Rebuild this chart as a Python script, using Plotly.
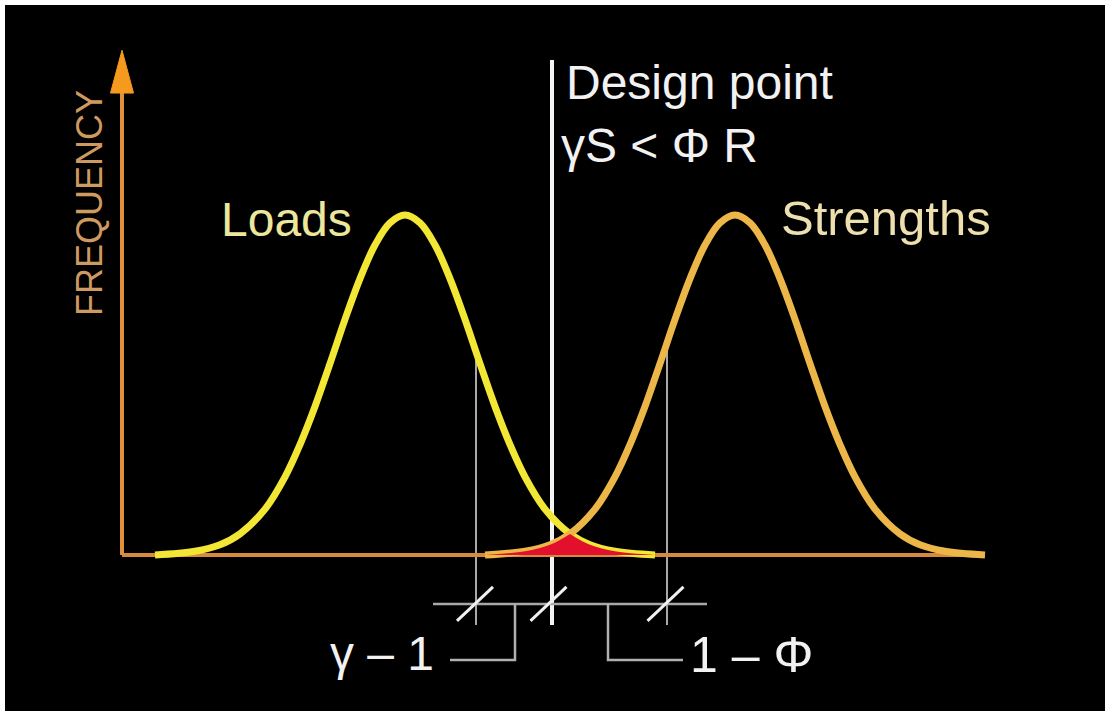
import plotly.graph_objects as go

# shared bell shape of both distributions (offset from mean, height relative to peak)
CURVE_OFFSETS = [-25, -21, -18.5, -16.5, -14, -12, -10.5, -9, -7.5, -6, -4.5, -3, -1.5, 0,
                 1.5, 3, 4.5, 6, 7.5, 9, 10.5, 12, 14, 16.5, 18.5, 21, 25]
CURVE_HEIGHTS = [0.0, 0.011, 0.030, 0.062, 0.135, 0.230, 0.325, 0.437, 0.563, 0.693, 0.813, 0.912, 0.977, 1.0,
                 0.977, 0.912, 0.813, 0.693, 0.563, 0.437, 0.325, 0.230, 0.135, 0.062, 0.030, 0.011, 0.0]

LOADS_MEAN = 40.5
STRENGTHS_MEAN = 73.5
DESIGN_POINT = 55.2
CHAR_MARKS = [47.6, 66.7]      # thin grey lines, one sd each side
MARK_TOP = 0.6
MARK_BOTTOM = -0.206
DESIGN_TOP = 1.456

Y_AXIS_X = 12.2
X_AXIS_END = 98.5
ARROW_TIP = 1.485

SCALE_Y = -0.144
SCALE_SPAN = [43.3, 70.7]
SLASH_X = [47.5, 54.85, 66.55]
BRACKET_Y = -0.309
LEFT_BRACKET = [51.5, 45.0]
RIGHT_BRACKET = [60.8, 68.3]

FONT = "Liberation Sans, Arial, sans-serif"
AXIS_COLOR = "#d68b3c"

loads_x = [LOADS_MEAN + o for o in CURVE_OFFSETS]
strengths_x = [STRENGTHS_MEAN + o for o in CURVE_OFFSETS]
cross = CURVE_OFFSETS.index(-16.5)
right_tail = CURVE_OFFSETS.index(16.5)

fig = go.Figure()


def line(x, y, color, width):
    fig.add_trace(go.Scatter(x=x, y=y, mode="lines", line=dict(color=color, width=width),
                             hoverinfo="skip"))


# verticals behind the curves
line([DESIGN_POINT, DESIGN_POINT], [MARK_BOTTOM, DESIGN_TOP], "#f4f4f4", 4)
for m in CHAR_MARKS:
    line([m, m], [MARK_BOTTOM, MARK_TOP], "#a9a9a9", 2)

# axes
line([Y_AXIS_X, X_AXIS_END], [0, 0], AXIS_COLOR, 4)
line([Y_AXIS_X, Y_AXIS_X], [0, ARROW_TIP - 0.12], "#e0903a", 4)
fig.add_trace(go.Scatter(
    x=[Y_AXIS_X - 1.15, Y_AXIS_X, Y_AXIS_X + 1.15, Y_AXIS_X - 1.15],
    y=[ARROW_TIP - 0.126, ARROW_TIP, ARROW_TIP - 0.126, ARROW_TIP - 0.126],
    mode="lines", fill="toself", fillcolor="#f59a1e", line=dict(color="#f59a1e", width=1),
    hoverinfo="skip"))

# distributions
fig.add_trace(go.Scatter(x=loads_x, y=CURVE_HEIGHTS, mode="lines", line_shape="spline",
                         line=dict(color="#f3e735", width=7), hoverinfo="skip"))
fig.add_trace(go.Scatter(x=strengths_x, y=CURVE_HEIGHTS, mode="lines", line_shape="spline",
                         line=dict(color="#ecb748", width=7), hoverinfo="skip"))

# overlap (failure region)
fig.add_trace(go.Scatter(x=strengths_x[:cross + 1], y=CURVE_HEIGHTS[:cross + 1], mode="lines",
                         line_shape="spline", fill="tozeroy", fillcolor="#e2102c",
                         line=dict(width=0, color="#e2102c"), hoverinfo="skip"))
fig.add_trace(go.Scatter(x=loads_x[right_tail:], y=CURVE_HEIGHTS[right_tail:], mode="lines",
                         line_shape="spline", fill="tozeroy", fillcolor="#e2102c",
                         line=dict(width=0, color="#e2102c"), hoverinfo="skip"))

# scale below the axis
line(SCALE_SPAN, [SCALE_Y, SCALE_Y], "#a8a8a8", 2.5)
line([LEFT_BRACKET[0], LEFT_BRACKET[0], LEFT_BRACKET[1]], [SCALE_Y, BRACKET_Y, BRACKET_Y], "#b0b0b0", 2.5)
line([RIGHT_BRACKET[0], RIGHT_BRACKET[0], RIGHT_BRACKET[1]], [SCALE_Y, BRACKET_Y, BRACKET_Y], "#b0b0b0", 2.5)
sx, sy = [], []
for s in SLASH_X:
    sx += [s - 1.8, s + 1.8, None]
    sy += [SCALE_Y - 0.05, SCALE_Y + 0.05, None]
line(sx, sy, "#f0f0f0", 3)

labels = [
    ("Design point", 56.4, 1.39, "#f2f2f2", 48),
    ("γS &lt; Φ R", 55.9, 1.206, "#f2f2f2", 48),
    ("Loads", 21.9, 0.988, "#ece79c", 48),
    ("Strengths", 77.9, 0.99, "#eedfae", 49),
]
for text, x, y, color, size in labels:
    fig.add_annotation(x=x, y=y, text=text, showarrow=False, xanchor="left", yanchor="middle",
                       font=dict(family=FONT, size=size, color=color))
fig.add_annotation(x=43.6, y=-0.291, text="γ – 1", showarrow=False, xanchor="right",
                   yanchor="middle", font=dict(family=FONT, size=48, color="#f2f2f2"))
fig.add_annotation(x=68.8, y=-0.293, text="1 – Φ", showarrow=False, xanchor="left",
                   yanchor="middle", font=dict(family=FONT, size=50, color="#f2f2f2"))
fig.add_annotation(x=8.95, y=1.034, text="FREQUENCY", showarrow=False, textangle=-90,
                   font=dict(family=FONT, size=36, color="#cf9a62"))

# thin white frame on the top and left edges of the slide
fig.add_shape(type="rect", xref="paper", yref="paper", x0=-0.01, x1=1.01, y0=1, y1=1.02,
              fillcolor="white", line_width=0, layer="above")
fig.add_shape(type="rect", xref="paper", yref="paper", x0=-0.01, x1=0, y0=-0.01, y1=1.02,
              fillcolor="white", line_width=0, layer="above")

fig.update_layout(
    width=1105, height=711,
    margin=dict(l=5, r=0, t=5, b=0),
    paper_bgcolor="black", plot_bgcolor="black",
    showlegend=False,
    xaxis=dict(visible=False, range=[0.5, 110.5], fixedrange=True),
    yaxis=dict(visible=False, range=[-0.459, 1.618], fixedrange=True),
)

fig.write_html("out.html", config={"displayModeBar": False},
               post_script="document.body.style.margin='0';document.body.style.overflow='hidden';"
                           "document.body.style.background='black';")
